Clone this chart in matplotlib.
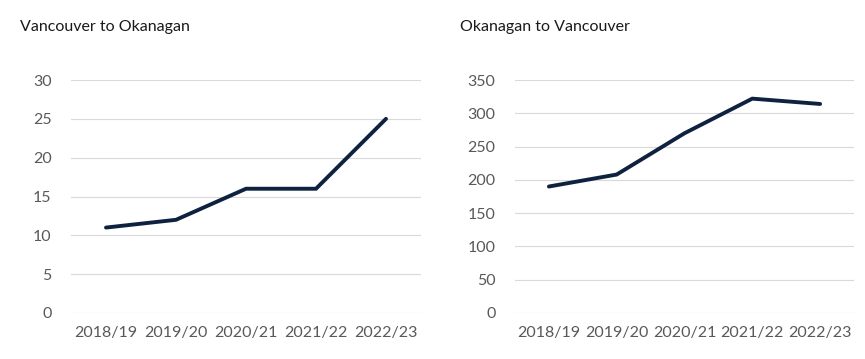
import matplotlib
matplotlib.use('Agg')
import matplotlib.pyplot as plt

# Data
years = ['2018/19', '2019/20', '2020/21', '2021/22', '2022/23']
van_to_oka = [11, 12, 16, 16, 25]
oka_to_van = [190, 208, 270, 322, 314]

plt.rcParams['font.family'] = ['Lato', 'DejaVu Sans']

line_color = '#0e2240'
grid_color = '#d9d9d9'
text_color = '#595959'

fig = plt.figure(figsize=(8.65, 3.59), dpi=100)

ax1 = fig.add_axes([71 / 865, 1 - 313 / 359, 350 / 865, 233 / 359])
ax2 = fig.add_axes([515 / 865, 1 - 313 / 359, 339 / 865, 233 / 359])

panels = [
    (ax1, van_to_oka, 'Vancouver to Okanagan', range(0, 31, 5), 30, 20),
    (ax2, oka_to_van, 'Okanagan to Vancouver', range(0, 351, 50), 350, 460),
]

for ax, vals, title, ticks, top, title_x in panels:
    ax.plot(range(len(years)), vals, color=line_color, linewidth=2.8,
            solid_capstyle='round', solid_joinstyle='miter', zorder=3,
            clip_on=False)
    ax.set_xlim(-0.5, len(years) - 0.5)
    ax.set_ylim(0, top)
    ax.set_yticks(list(ticks))
    ax.set_xticks(range(len(years)))
    ax.set_xticklabels(years)
    ax.grid(axis='y', color=grid_color, linewidth=0.8, zorder=0)
    ax.set_axisbelow(True)
    for s in ax.spines.values():
        s.set_visible(False)
    ax.tick_params(length=0, labelsize=11.5, colors=text_color, pad=9)
    ax.tick_params(axis='y', pad=14)
    fig.text(title_x / 865, 1 - 27 / 359, title, fontsize=11.5, color='#1a1a1a',
             ha='left', va='center')

fig.savefig('out.png', dpi=100)
